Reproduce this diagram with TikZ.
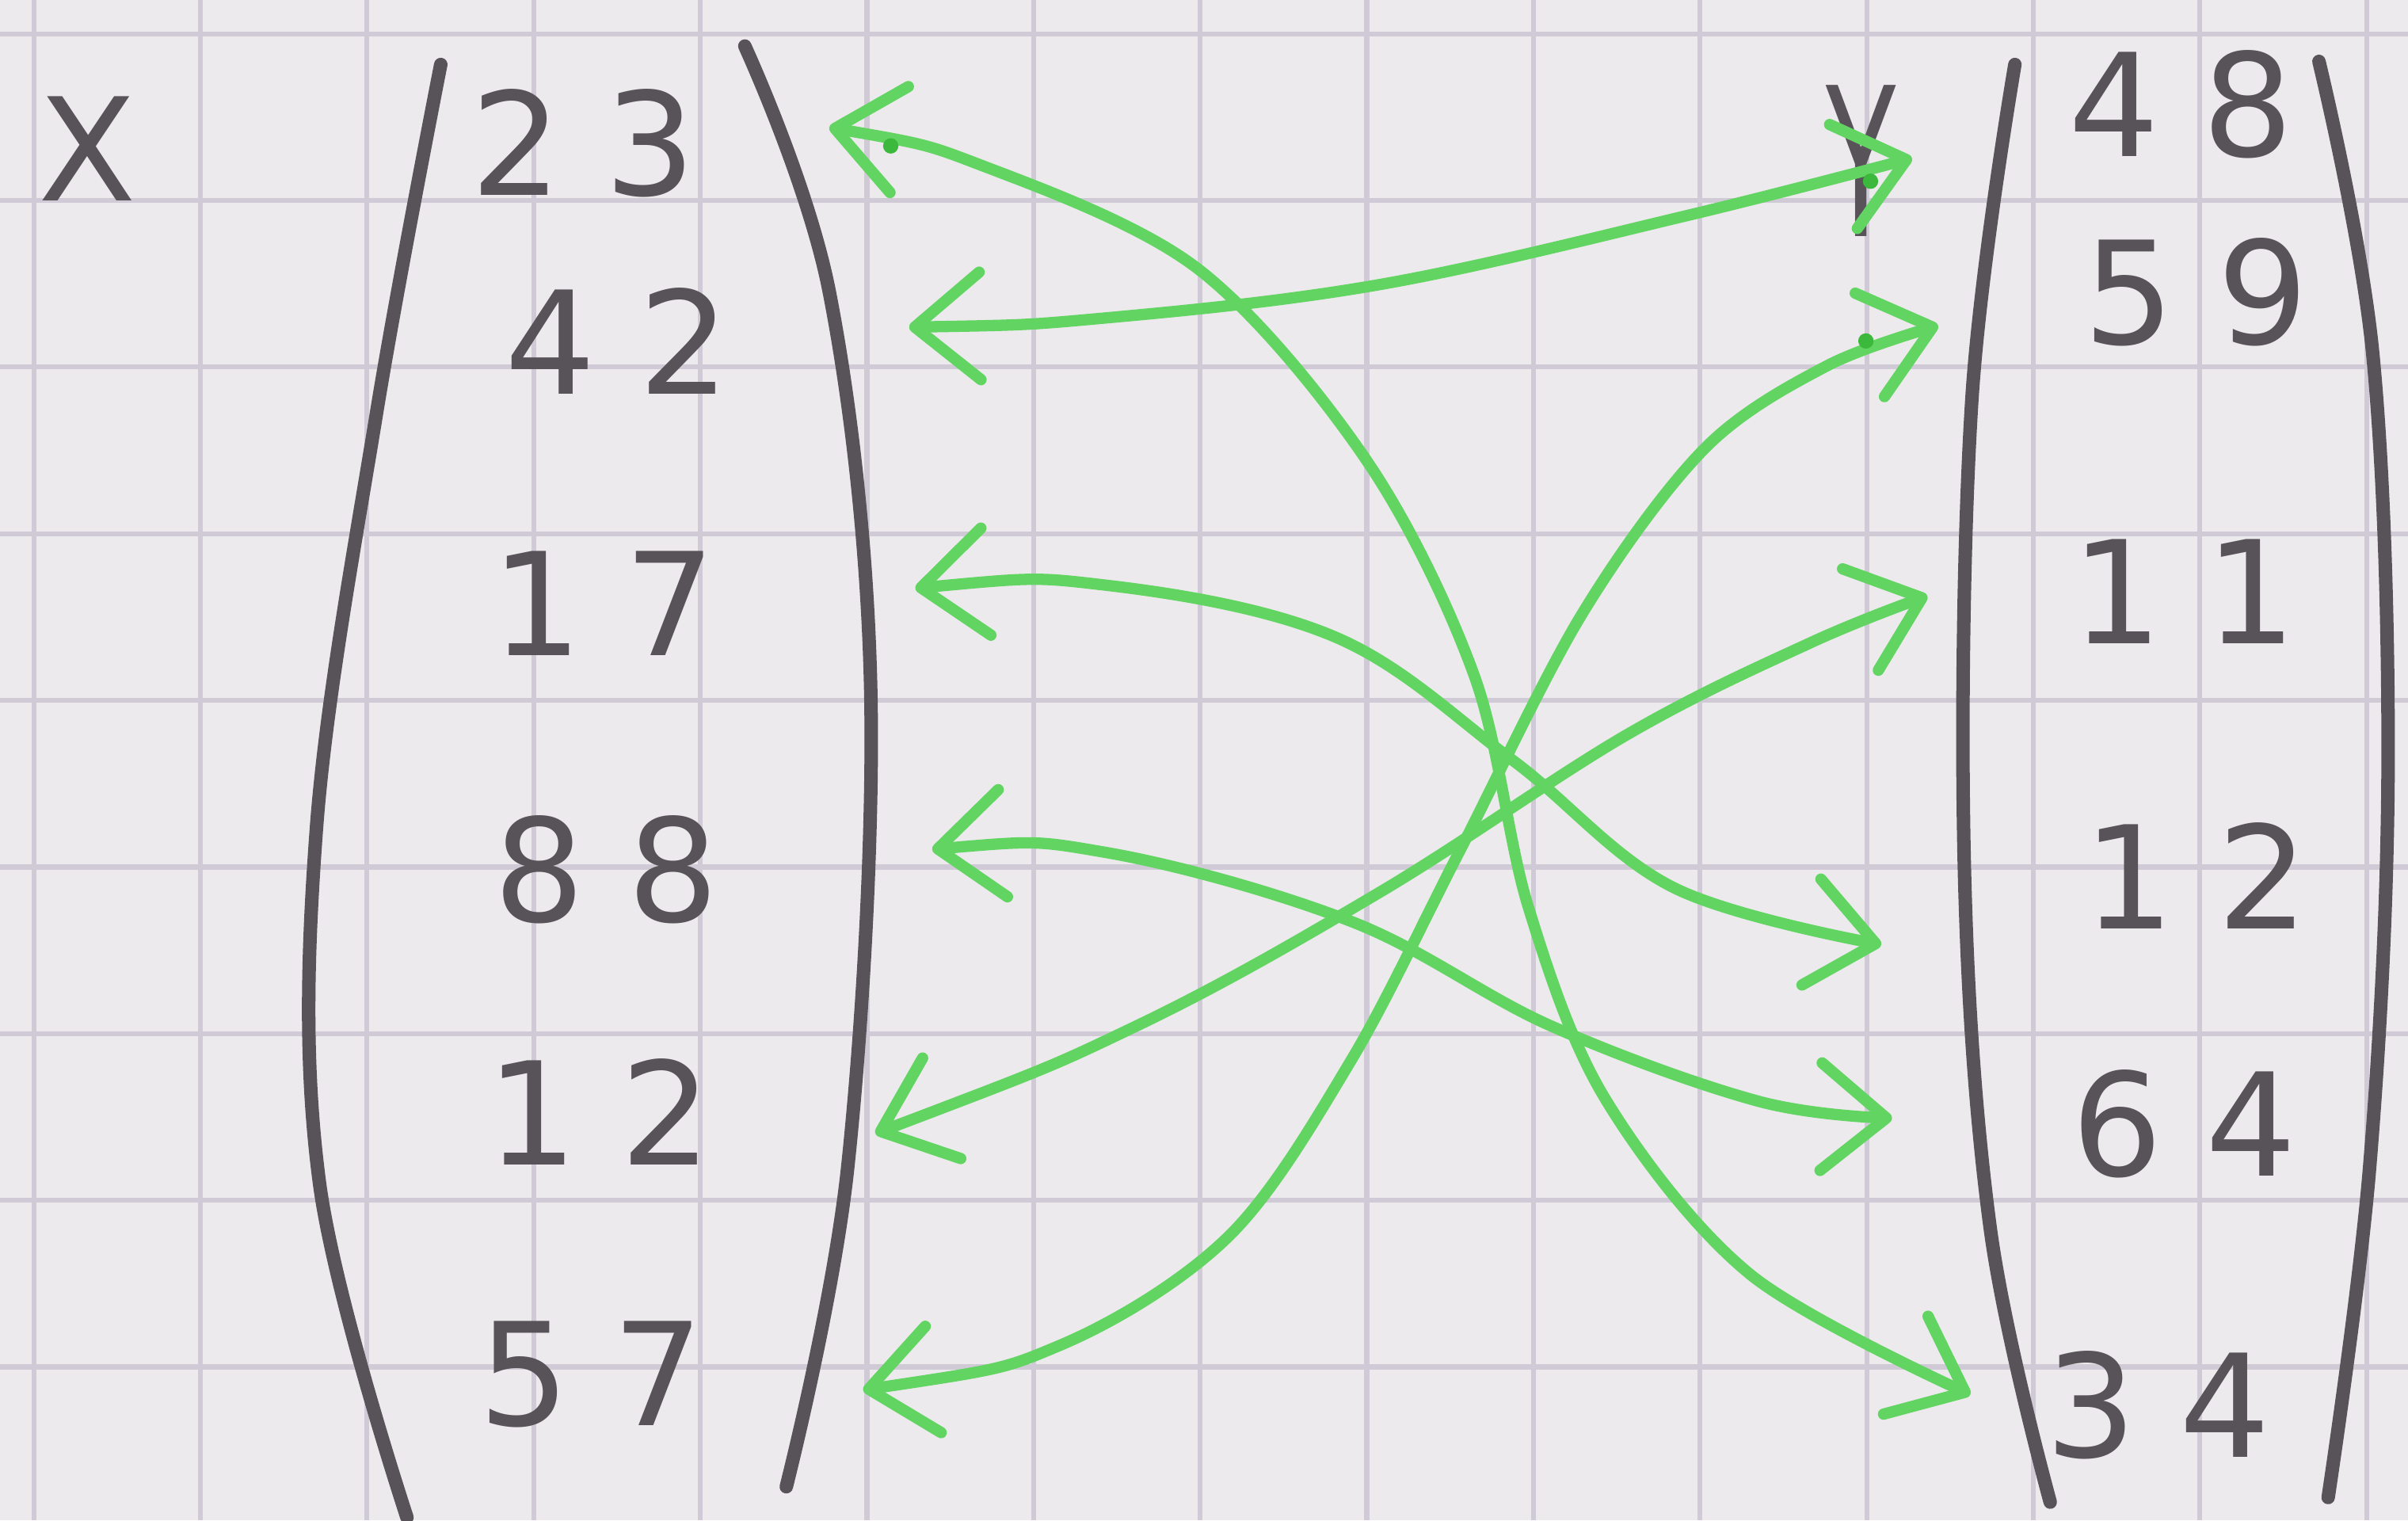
\documentclass[tikz,border=0pt]{standalone}
\usepackage{fontspec}
\usepackage{graphicx}
\setmainfont{DejaVu Sans}
\usetikzlibrary{arrows.meta}
\definecolor{paper}{RGB}{236,234,237}
\definecolor{gridc}{RGB}{207,202,214}
\definecolor{pencil}{RGB}{88,83,88}
\definecolor{marker}{RGB}{98,212,98}
\definecolor{markerdark}{RGB}{60,185,60}
\newcommand\dd[2]{#1\kern0.3em#2}
\begin{document}
\begin{tikzpicture}[x=0.02cm,y=-0.02cm,
  gridline/.style={draw=gridc, line width=1.8pt},
  paren/.style={draw=pencil, line width=5pt, line cap=round, line join=round},
  num/.style={text=pencil, font=\fontsize{53}{60}\selectfont, inner sep=0pt},
  swaparrow/.style={draw=marker, line width=4.2pt, line cap=round, line join=round,
    >={Straight Barb[length=0.85cm,width=1.4cm,round]}, <->},
  inkdot/.style={fill=markerdark, draw=none}
]
% paper and grid
\fill[paper] (0,0) rectangle (1568,990);
\useasboundingbox (0,0) rectangle (1568,990);
\foreach \i in {0,...,14} \draw[gridline] ({22+108.5*\i},0) -- ({22+108.5*\i},990);
\foreach \j in {0,...,8} \draw[gridline] (0,{22+108.5*\j}) -- (1568,{22+108.5*\j});

% brackets
\draw[paren] plot[smooth, tension=0.6] coordinates {(287,42) (245,270) (206,540) (208,770) (265,988)};
\draw[paren] plot[smooth, tension=0.6] coordinates {(485,30) (540,190) (567,450) (552,760) (512,968)};
\draw[paren] plot[smooth, tension=0.6] coordinates {(1312,42) (1284,260) (1279,560) (1296,800) (1335,978)};
\draw[paren] plot[smooth, tension=0.6] coordinates {(1510,40) (1545,230) (1555,500) (1543,760) (1516,975)};

% labels
\node[num] (X) at (57,97) {X};
\node[num] (Y) at (1212,105) {\scalebox{0.8}[1.45]{Y}};

% left vector
\node[num] (x1) at (380,93) {\dd23};
\node[num] (x2) at (402,222) {\dd42};
\node[num] (x3) at (393,393) {\dd17};
\node[num] (x4) at (395,566) {\dd88};
\node[num] (x5) at (390,724) {\dd12};
\node[num] (x6) at (385,895) {\dd57};

% right vector
\node[num] (y1) at (1420,68) {\dd48};
\node[num] (y2) at (1430,190) {\dd59};
\node[num] (y3) at (1422,385) {\dd11};
\node[num] (y4) at (1430,570) {\dd12};
\node[num] (y5) at (1422,732) {\dd64};
\node[num] (y6) at (1405,915) {\dd34};

% arrow end points
\coordinate (a1) at (540,83);  \coordinate (a2) at (1283,908);
\coordinate (b1) at (592,213); \coordinate (b2) at (1245,103);
\coordinate (c1) at (596,383); \coordinate (c2) at (1225,615);
\coordinate (d1) at (607,553); \coordinate (d2) at (1232,728);
\coordinate (e1) at (570,738); \coordinate (e2) at (1255,388);
\coordinate (f1) at (562,905); \coordinate (f2) at (1262,212);

% green swap arrows
\draw[swaparrow] plot[smooth, tension=0.55] coordinates {(a1) (640,108) (780,175) (890,300) (960,440) (995,590) (1045,715) (1140,830) (a2)};
\draw[swaparrow] plot[smooth, tension=0.6] coordinates {(b1) (720,207) (900,185) (1100,140) (b2)};
\draw[swaparrow] plot[smooth, tension=0.6] coordinates {(c1) (720,381) (870,415) (985,495) (1090,578) (c2)};
\draw[swaparrow] plot[smooth, tension=0.6] coordinates {(d1) (720,555) (880,600) (1010,668) (1145,717) (d2)};
\draw[swaparrow] plot[smooth, tension=0.6] coordinates {(e1) (740,668) (900,580) (1060,478) (1180,418) (e2)};
\draw[swaparrow] plot[smooth, tension=0.55] coordinates {(f1) (690,876) (800,805) (880,690) (950,555) (1030,400) (1110,292) (1190,238) (f2)};

% ink dots
\fill[inkdot] (580,95) circle (5);
\fill[inkdot] (1218,118) circle (5);
\fill[inkdot] (1215,222) circle (5);
\end{tikzpicture}
\end{document}
